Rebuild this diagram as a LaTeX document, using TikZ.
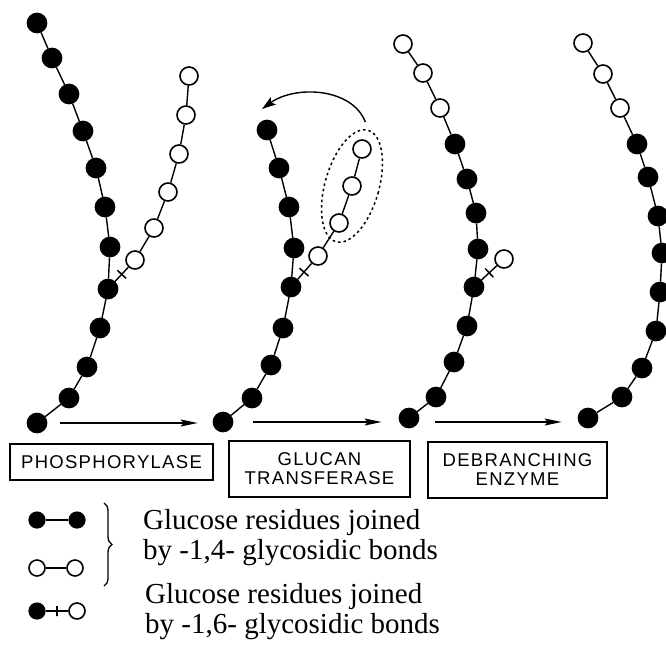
\documentclass[tikz,border=0pt]{standalone}
\usepackage{fontspec}
\setmainfont{Liberation Serif}
\newfontfamily\labelfont{Liberation Sans}[LetterSpace=7]
\usepackage{tikz}
\usetikzlibrary{arrows.meta,shapes.geometric,decorations.pathreplacing}

\begin{document}
\begin{tikzpicture}[
    x=1pt, y=-1pt,
    glc/.style={circle, draw, fill=black, line width=1.2pt, inner sep=0pt, minimum size=19.5pt},
    free/.style={glc, fill=white, line width=1.6pt, minimum size=18pt},
    keyglc/.style={glc, minimum size=16pt},
    keyfree/.style={free, minimum size=16pt},
    bond/.style={line width=1.4pt},
    tick/.style={draw, line width=1.5pt, sloped, inner sep=0pt, minimum width=0pt, minimum height=12pt},
    enzyme/.style={draw, line width=1.3pt, align=center, inner sep=0pt, font=\labelfont\fontsize{18.5}{19}\selectfont},
    line/.style={-{Stealth[length=17pt, width=7pt, inset=3pt]}, line width=1.3pt},
    legend/.style={align=left, anchor=west, inner sep=0pt, font=\fontsize{29}{30}\selectfont}
]
\useasboundingbox (0,0) rectangle (666,657);

\node[glc] (a1) at (37,23) {};
\node[glc] (a2) at (52,58) {};
\node[glc] (a3) at (69,94) {};
\node[glc] (a4) at (83,131) {};
\node[glc] (a5) at (96,168) {};
\node[glc] (a6) at (105,207) {};
\node[glc] (a7) at (110,247) {};
\node[glc] (a8) at (108,289) {};
\node[glc] (a9) at (100,328) {};
\node[glc] (a10) at (87,367) {};
\node[glc] (a11) at (69,398) {};
\node[glc] (a12) at (37,423) {};
\node[free] (u1) at (135,260) {};
\node[free] (u2) at (154,228) {};
\node[free] (u3) at (168,192) {};
\node[free] (u4) at (179,154) {};
\node[free] (u5) at (186,115) {};
\node[free] (u6) at (189,76) {};

\node[glc] (b1) at (267,130) {};
\node[glc] (b2) at (279,168) {};
\node[glc] (b3) at (289,207) {};
\node[glc] (b4) at (294,248) {};
\node[glc] (b5) at (291,287) {};
\node[glc] (b6) at (283,328) {};
\node[glc] (b7) at (271,365) {};
\node[glc] (b8) at (252,398) {};
\node[glc] (b9) at (223,422) {};
\node[free] (v1) at (318,256) {};
\node[free] (v2) at (339,223) {};
\node[free] (v3) at (352,186) {};
\node[free] (v4) at (362,149) {};
\node[ellipse, draw, line width=1.5pt, dash pattern=on 2.5pt off 3pt, minimum width=54pt, minimum height=116pt, rotate=-16] (moved) at (352,186) {};
\coordinate (drop) at ([xshift=-5pt, yshift=21pt]b1);

\node[free] (c1) at (403,44) {};
\node[free] (c2) at (423,73) {};
\node[free] (c3) at (440,108) {};
\node[glc] (c4) at (455,144) {};
\node[glc] (c5) at (467,179) {};
\node[glc] (c6) at (476,213) {};
\node[glc] (c7) at (478,249) {};
\node[glc] (c8) at (474,287) {};
\node[glc] (c9) at (467,326) {};
\node[glc] (c10) at (454,362) {};
\node[glc] (c11) at (436,397) {};
\node[glc] (c12) at (409,418) {};
\node[free] (w1) at (504,259) {};

\node[free] (d1) at (583,43) {};
\node[free] (d2) at (603,74) {};
\node[free] (d3) at (620,108) {};
\node[glc] (d4) at (637,144) {};
\node[glc] (d5) at (648,177) {};
\node[glc] (d6) at (658,216) {};
\node[glc] (d7) at (662,253) {};
\node[glc] (d8) at (660,292) {};
\node[glc] (d9) at (656,331) {};
\node[glc] (d10) at (642,368) {};
\node[glc] (d11) at (622,397) {};
\node[glc] (d12) at (588,418) {};

\node[enzyme, minimum width=203pt, minimum height=36pt] (phos) at (111.5,462) {PHOSPHORYLASE};
\node[enzyme, minimum width=181pt, minimum height=56pt] (transf) at (319.5,469) {GLUCAN\\TRANSFERASE};
\node[enzyme, minimum width=179pt, minimum height=56pt] (debr) at (517.5,470) {DEBRANCHING\\ENZYME};

\node[keyglc] (k1) at (37,520) {};
\node[keyglc] (k2) at (77,520) {};
\node[keyfree] (k3) at (37,568) {};
\node[keyfree] (k4) at (75,568) {};
\node[keyglc] (k5) at (37,611) {};
\node[keyfree] (k6) at (77,611) {};
\coordinate (br1) at (104,503);
\coordinate (br2) at (104,586);
\node[legend] (leg14) at (143,538) {Glucose residues joined\\by -1,4- glycosidic bonds};
\node[legend] (leg16) at (145,612) {Glucose residues joined\\by -1,6- glycosidic bonds};

\draw[bond] (a1) -- (a2) -- (a3) -- (a4) -- (a5) -- (a6) -- (a7) -- (a8) -- (a9) -- (a10) -- (a11) -- (a12);
\draw[bond] (a8) -- node[tick] {} (u1) -- (u2) -- (u3) -- (u4) -- (u5) -- (u6);
\draw[bond] (b1) -- (b2) -- (b3) -- (b4) -- (b5) -- (b6) -- (b7) -- (b8) -- (b9);
\draw[bond] (b5) -- node[tick, pos=0.45] {} (v1) -- (v2) -- (v3) -- (v4);
\draw[bond] (c1) -- (c2) -- (c3) -- (c4) -- (c5) -- (c6) -- (c7) -- (c8) -- (c9) -- (c10) -- (c11) -- (c12);
\draw[bond] (c8) -- node[tick] {} (w1);
\draw[bond] (d1) -- (d2) -- (d3) -- (d4) -- (d5) -- (d6) -- (d7) -- (d8) -- (d9) -- (d10) -- (d11) -- (d12);
\draw[bond] (k1) -- (k2);
\draw[bond] (k3) -- (k4);
\draw[bond] (k5) -- node[tick, minimum height=10pt] {} (k6);

\draw[line, shorten <=13pt, shorten >=15pt] (a12.east) -- (a12.east -| b9.west);
\draw[line, shorten <=20pt, shorten >=17pt] (b9.east) -- (b9.east -| c12.west);
\draw[line, shorten <=16pt, shorten >=16pt] ([yshift=-4pt]c12.east) -- ([yshift=-4pt]c12.east -| d12.west);
\draw[-{Stealth[length=14pt, width=9pt, inset=3pt]}, line width=1.4pt, shorten <=8pt] (moved.north) .. controls +(-16,-42) and +(33,-24) .. (drop);
\draw[line width=1.3pt, decorate, decoration={brace, amplitude=8pt}] (br1) -- (br2);
\end{tikzpicture}
\end{document}
